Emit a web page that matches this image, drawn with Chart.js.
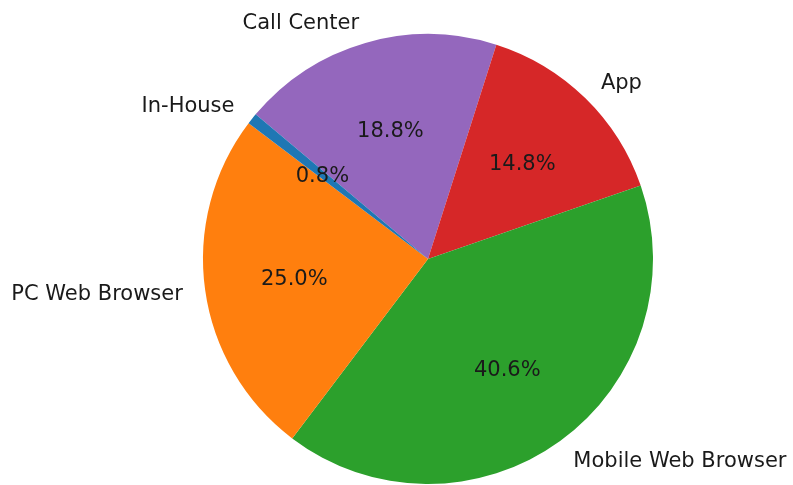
<!DOCTYPE html>
<html>
<head>
<meta charset="utf-8">
<script src="https://cdn.jsdelivr.net/npm/chart.js@4"></script>
<style>
  html, body { margin: 0; padding: 0; background: #fff; }
  #wrap { width: 793px; height: 485px; position: relative; }
</style>
</head>
<body>
<div id="wrap"><canvas id="pie"></canvas></div>
<script>
// data in counterclockwise order (as the original plot lists it)
const categories = ['In-House', 'PC Web Browser', 'Mobile Web Browser', 'App', 'Call Center'];
const shares = [0.8, 25.0, 40.6, 14.8, 18.8];
const colors = ['#1f77b4', '#ff7f0e', '#2ca02c', '#d62728', '#9467bd'];

// Chart.js goes clockwise, so flip the order
const labels = categories.slice().reverse();
const values = shares.slice().reverse();
const fills = colors.slice().reverse();

const FONT = '"DejaVu Sans", sans-serif';

const pieLabels = {
  id: 'pieLabels',
  afterDatasetsDraw(chart) {
    const ctx = chart.ctx;
    const meta = chart.getDatasetMeta(0);
    ctx.save();
    ctx.fillStyle = '#1a1a1a';
    ctx.textBaseline = 'middle';
    ctx.font = '21px ' + FONT;
    meta.data.forEach((arc, i) => {
      const p = arc.getProps(['x', 'y', 'startAngle', 'endAngle', 'outerRadius'], true);
      const mid = (p.startAngle + p.endAngle) / 2;
      const c = Math.cos(mid), s = Math.sin(mid);
      // category label outside
      ctx.textAlign = c > 0 ? 'left' : 'right';
      ctx.fillText(labels[i], p.x + c * p.outerRadius * 1.1, p.y + s * p.outerRadius * 1.1 + 2);
      // percentage inside
      ctx.textAlign = 'center';
      ctx.fillText(values[i].toFixed(1) + '%', p.x + c * p.outerRadius * 0.6, p.y + s * p.outerRadius * 0.6 + 2);
    });
    ctx.restore();
  }
};

new Chart(document.getElementById('pie'), {
  type: 'pie',
  data: {
    labels: labels,
    datasets: [{
      data: values,
      backgroundColor: fills,
      borderWidth: 0
    }]
  },
  options: {
    responsive: true,
    maintainAspectRatio: false,
    animation: false,
    rotation: -50,
    layout: { padding: { top: 34, bottom: 1, left: 63, right: 0 } },
    plugins: {
      legend: { display: false },
      tooltip: { enabled: false }
    }
  },
  plugins: [pieLabels]
});
</script>
</body>
</html>
